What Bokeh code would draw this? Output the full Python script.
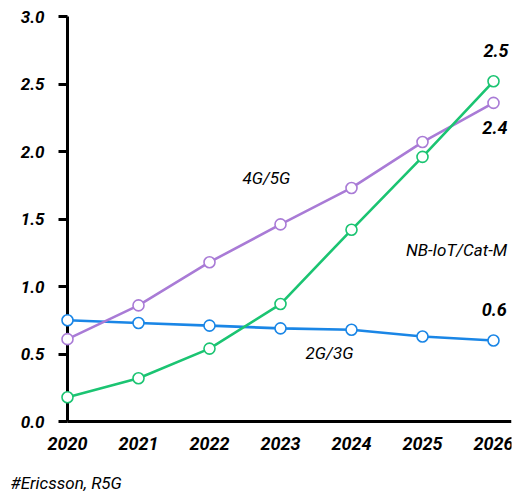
from bokeh.plotting import figure
from bokeh.models import Range1d, Label, FixedTicker
from bokeh.core.properties import value
from bokeh.embed import file_html
from bokeh.resources import INLINE

# Cellular IoT connections, billions
years = [2020, 2021, 2022, 2023, 2024, 2025, 2026]
nbiot_catm = [0.18, 0.32, 0.54, 0.87, 1.42, 1.96, 2.52]
g4_g5 = [0.61, 0.86, 1.18, 1.46, 1.73, 2.07, 2.36]
g2_g3 = [0.75, 0.73, 0.71, 0.69, 0.68, 0.63, 0.60]
y_ticks = [0.0, 0.5, 1.0, 1.5, 2.0, 2.5, 3.0]
source_note = "#Ericsson, R5G"

FONT = "Roboto"
PURPLE = "#a97bd6"
GREEN = "#1bc472"
BLUE = "#1a86e6"

p = figure(
    width=516, height=491,
    output_backend="svg", toolbar_location=None,
    x_range=Range1d(2020 - 67 / 71, 2020 + 444 / 71),
    y_range=Range1d(-70 / 135, 3 + 16 / 135),
    min_border_left=0, min_border_right=5,
    min_border_top=0, min_border_bottom=0,
)
p.outline_line_color = None
p.grid.visible = False
p.background_fill_color = "white"
p.border_fill_color = "white"

# Axes pinned at the origin (2020, 0)
xa = p.xaxis[0]
xa.fixed_location = 0
xa.bounds = (2020, 2020 + 444 / 71)
xa.ticker = FixedTicker(ticks=years)
xa.axis_line_width = 3
xa.axis_line_color = "black"
xa.major_tick_out = 0
xa.major_tick_in = 0
xa.minor_tick_out = 0
xa.minor_tick_in = 0
xa.major_label_standoff = 15
xa.major_label_text_font = FONT
xa.major_label_text_font_style = "bold italic"
xa.major_label_text_font_size = "18px"
xa.major_label_text_color = "black"

ya = p.yaxis[0]
ya.fixed_location = 2020
ya.bounds = (0, 3)
ya.ticker = FixedTicker(ticks=y_ticks)
ya.axis_line_width = 3
ya.axis_line_color = "black"
ya.major_tick_out = 9
ya.major_tick_in = 0
ya.major_tick_line_width = 3
ya.major_tick_line_color = "black"
ya.minor_tick_out = 0
ya.minor_tick_in = 0
ya.major_label_standoff = 14
ya.major_label_text_font = FONT
ya.major_label_text_font_style = "bold italic"
ya.major_label_text_font_size = "17px"
ya.major_label_text_color = "black"
ya.major_label_overrides = {t: f"{t:.1f}" for t in y_ticks}

series = [(g2_g3, BLUE), (g4_g5, PURPLE), (nbiot_catm, GREEN)]
for vals, col in series:
    p.line(years, vals, line_color=col, line_width=2.6)
for vals, col in series:
    r = p.scatter(years, vals, marker="circle", size=11,
                  fill_color="white", line_color=col, line_width=1.6)
    r.level = "annotation"

# Series names
names = [
    ("4G/5G", 2022.80, 1.807),
    ("NB-IoT/Cat-M", 2025.48, 1.267),
    ("2G/3G", 2023.69, 0.504),
]
p.text(x=[n[1] for n in names], y=[n[2] for n in names],
       text=[n[0] for n in names],
       text_font=value(FONT), text_font_style="italic",
       text_font_size="17px", text_color="black",
       text_align="center", text_baseline="middle")

# End values for 2026
end_labels = [
    (f"{nbiot_catm[-1]:.1f}", 2026.035, 2.748),
    (f"{g4_g5[-1]:.1f}", 2026.02, 2.18),
    (f"{g2_g3[-1]:.1f}", 2026.01, 0.83),
]
p.text(x=[e[1] for e in end_labels], y=[e[2] for e in end_labels],
       text=[e[0] for e in end_labels],
       text_font=value(FONT), text_font_style="bold italic",
       text_font_size="18px", text_color="black",
       text_align="center", text_baseline="middle")

p.add_layout(Label(x=10, y=9, x_units="screen", y_units="screen",
                   text=source_note, text_font=FONT,
                   text_font_style="italic", text_font_size="17px",
                   text_color="black", text_baseline="middle"))

open("out.html", "w").write(file_html(p, INLINE))
